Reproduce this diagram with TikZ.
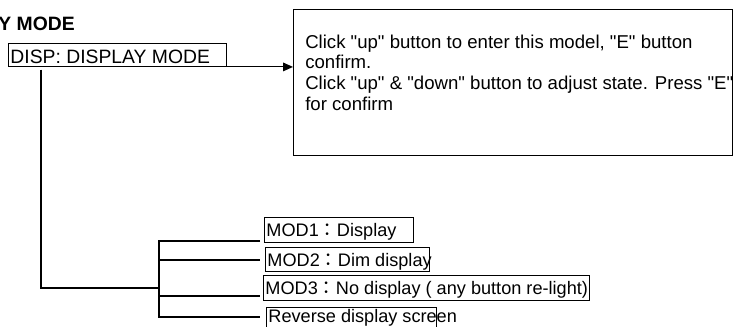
\documentclass[tikz,border=0pt]{standalone}
\usepackage{fontspec}
\setmainfont{Liberation Sans}[Ligatures=TeXOff]
\newfontfamily\cjk{Noto Sans CJK TC}
\usetikzlibrary{arrows.meta,calc}
\begin{document}
\begin{tikzpicture}[x=0.75pt,y=-0.75pt,
  modbox/.style={draw,line width=0.7pt,anchor=north west,inner xsep=1.5pt,inner ysep=0pt,
    text height=9.8pt,text depth=0pt,font=\fontsize{13.6}{15}\selectfont},
  conn/.style={line width=1.1pt},
]
\useasboundingbox (0,0) rectangle (733,326);

% title
\node[anchor=base east,inner sep=0,font=\bfseries\fontsize{14.5}{17}\selectfont] (title) at (75,30.5) {Y MODE};

% DISP box
\node[modbox,font=\fontsize{14.5}{17}\selectfont,text height=12.6pt,minimum height=17.25pt] (disp) at (8,43)
  {\makebox[160.5pt][l]{DISP: DISPLAY MODE}};

% info box
\node[draw,line width=1.1pt,anchor=north west,minimum width=329.25pt,minimum height=109.5pt,inner sep=0] (info) at (293,9) {};
\node[anchor=north west,inner sep=0,align=left,font=\fontsize{13.95}{15.4}\selectfont] (infotext) at (305,34.7)
  {Click "up" button to enter this model, "E" button\\confirm.\\Click "up" \& "down" button to adjust state. Press "E"\\for confirm};

\draw[line width=0.8pt,-{Triangle[length=7.5pt,width=6.5pt]}] (disp.south east) -- (disp.south east -| info.west);

% mode boxes
\node[modbox,minimum height=18.75pt] (mod1) at (264,217) {\makebox[108.75pt][l]{MOD1{\cjk ：}Display}};
\node[modbox,minimum height=18pt] (mod2) at (265,247) {\makebox[120pt][l]{MOD2{\cjk ：}Dim display}};
\node[modbox,minimum height=18.75pt] (mod3) at (263,275) {\makebox[241.5pt][l]{MOD3{\cjk ：}No display ( any button re-light)}};
\node[modbox,minimum height=18.75pt,text height=3.75pt] (rev) at (266,307) {\makebox[124.5pt][l]{Reverse display screen}};

% connectors
\coordinate (d0) at (41,69.5);
\coordinate (d1) at (41,288);
\coordinate (b0) at (159,288);
\coordinate (bt) at (159,241);
\coordinate (bb) at (159,317);
\coordinate (e1) at (260,241);
\coordinate (e2) at (260,260);
\coordinate (e3) at (260,296);
\coordinate (e4) at (260,317);
\draw[conn] (d0) -- (d1) -- (b0);
\draw[conn] (e1) -- (bt) -- (bb) -- (e4);
\draw[conn] (e2 -| bt) -- (e2);
\draw[conn] (e3 -| bt) -- (e3);
\end{tikzpicture}
\end{document}
